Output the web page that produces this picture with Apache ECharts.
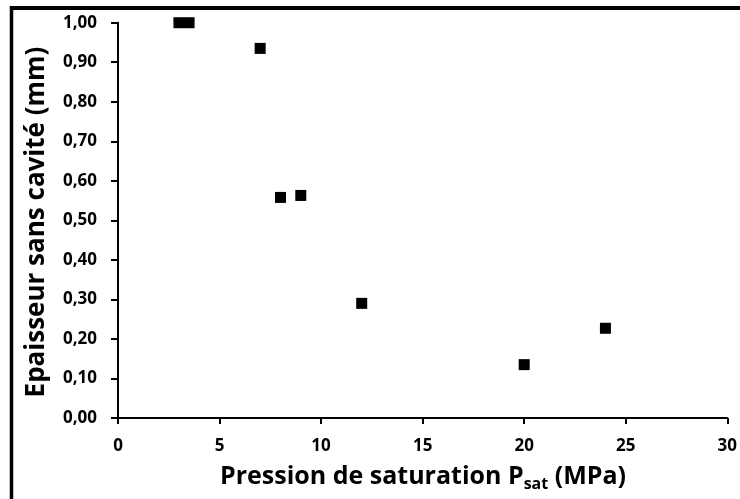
<!DOCTYPE html>
<html><head><meta charset="utf-8">
<script src="https://cdn.jsdelivr.net/npm/echarts@6/dist/echarts.min.js"></script>
<style>html,body{margin:0;padding:0;background:#fff}#c{width:740px;height:499px}</style>
</head><body><div id="c"></div>
<script>
const pressure = [3, 3.5, 7, 8, 9, 12, 20, 24];
const thickness = [1.00, 1.00, 0.935, 0.558, 0.563, 0.290, 0.135, 0.227];
const xTitle = 'Pression de saturation ';
const yTitle = 'Epaisseur sans cavité (mm)';

const chart = echarts.init(document.getElementById('c'), null, {renderer: 'canvas'});
const font = '"Open Sans", sans-serif';
chart.setOption({
  animation: false,
  backgroundColor: '#fff',
  graphic: [
    {type: 'line', shape: {x1: 11.5, y1: 8, x2: 740, y2: 8}, style: {stroke: '#000', lineWidth: 4}},
    {type: 'line', shape: {x1: 11.5, y1: 6, x2: 11.5, y2: 499}, style: {stroke: '#000', lineWidth: 3.5}},
    {type: 'text', x: 423, y: 477, style: {
      align: 'center', verticalAlign: 'middle',
      rich: {
        t: {fontSize: 25, fontWeight: 'bold', fontFamily: font, fill: '#000'},
        s: {fontSize: 16, fontWeight: 'bold', fontFamily: font, fill: '#000', padding: [15, 0, 0, 0]}
      },
      text: '{t|' + xTitle + 'P}{s|sat}{t| (MPa)}'
    }},
    {type: 'text', x: 37, y: 222, rotation: Math.PI / 2, style: {
      align: 'center', verticalAlign: 'middle',
      text: yTitle, fontSize: 26, fontWeight: 'bold', fontFamily: font, fill: '#000'
    }}
  ],
  grid: {left: 118, right: 11.5, top: 22.7, bottom: 81, containLabel: false},
  xAxis: {
    type: 'value', min: 0, max: 30, interval: 5,
    axisLine: {show: true, lineStyle: {color: '#000', width: 2}},
    axisTick: {show: true, inside: false, length: 6, lineStyle: {color: '#000', width: 2}},
    axisLabel: {color: '#000', fontSize: 17, fontWeight: 'bold', fontFamily: font, margin: 20},
    splitLine: {show: false}
  },
  yAxis: {
    type: 'value', min: 0, max: 1, interval: 0.1,
    axisLine: {show: true, lineStyle: {color: '#000', width: 2}},
    axisTick: {show: true, inside: false, length: 7, lineStyle: {color: '#000', width: 2}},
    axisLabel: {color: '#000', fontSize: 17, fontWeight: 'bold', fontFamily: font, margin: 21,
      formatter: v => v.toFixed(2).replace('.', ',')},
    splitLine: {show: false}
  },
  series: [{
    type: 'scatter',
    symbol: 'rect', symbolSize: 11,
    itemStyle: {color: '#000', opacity: 1},
    data: pressure.map((p, i) => [p, thickness[i]])
  }]
});
</script>
</body></html>
